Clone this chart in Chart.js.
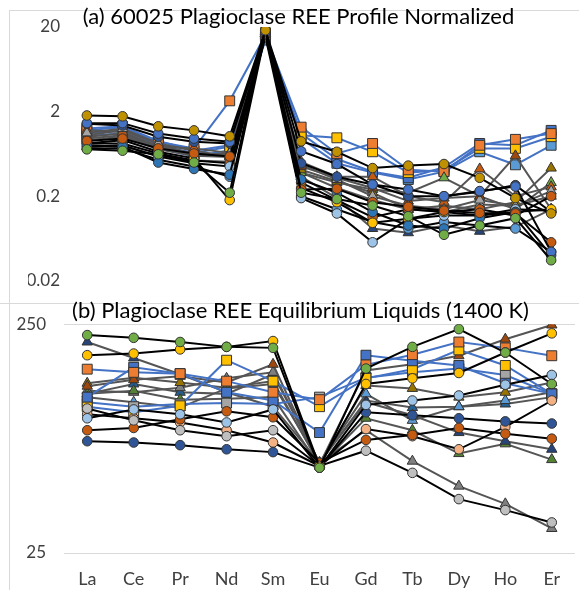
<!DOCTYPE html>
<html><head><meta charset="utf-8">
<script src="https://cdn.jsdelivr.net/npm/chart.js@4.4.0/dist/chart.umd.min.js"></script>
<style>
html,body{margin:0;padding:0;background:#fff;}
#wrap{position:relative;width:579px;height:590px;overflow:hidden;}
.cv{position:absolute;left:0;}
.ln{position:absolute;background:#d9d9d9;}
</style></head><body>
<div id="wrap">
<div class="ln" style="left:9px;top:10px;width:1px;height:580px"></div>
<div class="ln" style="left:9px;top:10px;width:570px;height:1px"></div>
<div class="ln" style="left:0;top:303px;width:579px;height:1px"></div>
<div class="cv" style="top:0;width:579px;height:300px"><canvas id="ca"></canvas></div>
<div class="cv" style="top:296px;width:585px;height:294px"><canvas id="cb"></canvas></div>
</div>
<script>
// ---------- Data: panel (a) 60025 plagioclase REE normalized ----------
const catsA = ['La','Ce','Pr','Nd','Sm','Eu','Gd','Tb','Dy','Ho','Er','Tm','Yb','Lu'];
const titleA = '(a) 60025 Plagioclase REE Profile Normalized';
const tickValsA = [0.02, 0.2, 2, 20];
const tickLabelsA = ['0.02', '0.2', '2', '20'];

const a_goldCircle      = [1.80,1.76,1.34,1.20,1.02,18.3,0.89,0.67,0.43,0.46,0.48,0.33,0.19,0.125];
const a_blueCircle      = [1.46,1.46,1.10,0.96,0.88,17.5,0.68,0.48,0.275,0.24,0.20,0.23,0.26,0.044];
const a_dkOrangeCircle  = [0.90,0.96,0.735,0.64,0.59,16.7,0.24,0.245,0.17,0.15,0.135,0.127,0.125,0.057];
const a_greenCircle     = [0.716,0.69,0.626,0.50,0.22,19.1,0.22,0.185,0.155,0.116,0.07,0.09,0.11,0.035];
const a_blueCircle2     = [0.80,0.77,0.50,0.42,0.36,16,0.315,0.22,0.13,0.09,0.083,0.11,0.13,0.04];
const a_yellowCircle    = [0.84,0.92,0.67,0.56,0.18,16.7,0.25,0.17,0.097,0.108,0.13,0.118,0.13,0.14];
const a_ltBlueCircle    = [0.77,0.80,0.59,0.49,0.45,15.3,0.19,0.125,0.057,0.108,0.118,0.118,0.14,0.135];
const a_dkBlueCircle    = [1.44,1.37,1.01,0.88,0.84,17.5,0.49,0.34,0.275,0.20,0.20,0.225,0.27,0.13];
const a_dkOrangeCircle2 = [0.84,0.84,0.64,0.53,0.49,18.3,0.29,0.18,0.113,0.14,0.13,0.14,0.118,0.20];
const a_blueCircle3     = [0.735,0.735,0.54,0.45,0.34,17.5,0.20,0.14,0.099,0.083,0.099,0.09,0.083,0.044];
const a_grayTri         = [1.12,1.26,0.84,0.61,0.64,17.5,0.47,0.315,0.20,0.154,0.14,0.18,0.154,0.23];
const a_dkOrangeTri     = [1.20,1.15,0.78,0.735,0.65,17.5,0.51,0.34,0.34,0.20,0.17,0.42,0.20,0.258];
const a_brownTri        = [1.01,1.10,0.77,0.64,0.61,16.7,0.45,0.33,0.25,0.175,0.19,0.20,0.60,0.14];
const a_oliveTri        = [0.92,1.01,0.716,0.60,0.58,17.5,0.41,0.30,0.22,0.14,0.154,0.14,0.17,0.43];
const a_greenTri        = [0.96,1.05,0.735,0.61,0.60,16.7,0.38,0.29,0.24,0.22,0.33,0.20,0.14,0.29];
const a_dkBlueTri       = [0.77,0.78,0.60,0.53,0.51,16.7,0.34,0.19,0.083,0.074,0.09,0.077,0.087,0.14];
const a_ltGrayTri       = [1.05,1.20,0.84,0.69,0.59,16,0.38,0.25,0.18,0.14,0.13,0.16,0.154,0.20];
const a_orangeSquare    = [1.20,1.31,0.88,0.735,2.68,16,1.31,0.64,0.84,0.41,0.39,0.80,0.94,1.10];
const a_yellowSquare    = [1.10,1.22,0.80,0.65,0.77,16.7,1.05,0.98,0.67,0.38,0.41,0.735,0.735,1.01];
const a_blueSquare      = [1.26,1.34,0.90,0.69,0.80,15.3,1.10,0.55,0.39,0.33,0.44,0.84,0.80,1.20];
const a_ltBlueSquare    = [1.02,1.12,0.735,0.59,0.70,14,0.96,0.49,0.38,0.315,0.39,0.67,0.47,0.80];

// ---------- Data: panel (b) equilibrium liquids ----------
const catsB = ['La','Ce','Pr','Nd','Sm','Eu','Gd','Tb','Dy','Ho','Er'];
const titleB = '(b) Plagioclase REE Equilibrium Liquids (1400 K)';
const tickValsB = [25, 250];
const tickLabelsB = ['25', '250'];

const b_greenCircle    = [224,218,209,199,197,59,160,199,238,188,137];
const b_yellowCircle   = [183,186,194,199,211,60,137,145,153,188,228];
const b_orangeSquare   = [159,154,152,141,126,117,166,184,209,197,182];
const b_blueSquare     = [120,162,152,126,116,84,183,173,165,138,124];
const b_yellowSquare   = [109,103,110,174,141,109,145,159,193,165,124];
const b_graySquare     = [114,109,112,113,112,120,146,154,160,150,124];
const b_brownTri       = [134,143,148,139,167,61,157,167,182,215,248];
const b_dkBlueTri      = [209,178,151,126,109,62,114,100,84,77,71];
const b_oliveTri       = [138,146,139,132,141,61,135,131,120,126,139];
const b_blueTri        = [120,114,108,131,137,62,124,95,109,116,126];
const b_dkGreenTri     = [124,128,117,118,120,60,97,86,68,75,64];
const b_grayTri        = [128,126,132,145,154,62,86,63,49,41,32];
const b_grayCircle     = [107,95,86,81,86,60,70,56,43,38.5,34];
const b_ltBlueCircle   = [97,106,101,93,106,59,111,116,122,136,150];
const b_dkOrangeCircle = [86,88,96,104,98,62,78,82,88,83,79];
const b_dkBlueCircle   = [77,76,74,71,69,59,103,100,97,94,92];
const b_ltOrangeCircle = [101,97,93,86,76,60,87,81,71,89,116];
const b_dkBlueTri2     = [124,137,126,124,151,62,116,108,109,112,120];

// ---------- Styles ----------
const BLACK = '#000000', GRAYLINE = '#555555', BLUELINE = '#4472c4';
function ds(data, shape, fill, line) {
  const r = shape === 'rect' ? 7 : (shape === 'triangle' ? 6 : 4.8);
  return {
    data: data, pointStyle: shape, pointRadius: r, pointHoverRadius: r,
    pointBackgroundColor: fill, pointBorderColor: '#333333', pointBorderWidth: 1,
    borderColor: line, borderWidth: 2, tension: 0, fill: false
  };
}
// first dataset is drawn on top
const dsA = [
  ds(a_goldCircle,'circle','#bf9000',BLACK),
  ds(a_greenCircle,'circle','#70ad47',BLACK),
  ds(a_blueCircle,'circle','#4472c4',BLACK),
  ds(a_dkOrangeCircle,'circle','#c55a11',BLACK),
  ds(a_blueCircle2,'circle','#2e75b6',BLACK),
  ds(a_yellowCircle,'circle','#ffc000',BLACK),
  ds(a_ltBlueCircle,'circle','#9dc3e6',BLACK),
  ds(a_dkBlueCircle,'circle','#2f5597',BLACK),
  ds(a_dkOrangeCircle2,'circle','#c55a11',BLACK),
  ds(a_blueCircle3,'circle','#5b9bd5',BLACK),
  ds(a_grayTri,'triangle','#a5a5a5',GRAYLINE),
  ds(a_dkOrangeTri,'triangle','#c55a11',GRAYLINE),
  ds(a_brownTri,'triangle','#9e480e',GRAYLINE),
  ds(a_oliveTri,'triangle','#997300',GRAYLINE),
  ds(a_greenTri,'triangle','#70ad47',GRAYLINE),
  ds(a_dkBlueTri,'triangle','#264478',GRAYLINE),
  ds(a_ltGrayTri,'triangle','#bfbfbf',GRAYLINE),
  ds(a_orangeSquare,'rect','#ed7d31',BLUELINE),
  ds(a_yellowSquare,'rect','#ffc000',BLUELINE),
  ds(a_blueSquare,'rect','#4472c4',BLUELINE),
  ds(a_ltBlueSquare,'rect','#5b9bd5',BLUELINE)
];
const dsB = [
  ds(b_greenCircle,'circle','#70ad47',BLACK),
  ds(b_yellowCircle,'circle','#ffc000',BLACK),
  ds(b_grayCircle,'circle','#bfbfbf',BLACK),
  ds(b_ltBlueCircle,'circle','#9dc3e6',BLACK),
  ds(b_dkOrangeCircle,'circle','#c55a11',BLACK),
  ds(b_dkBlueCircle,'circle','#2f5597',BLACK),
  ds(b_ltOrangeCircle,'circle','#f4b183',BLACK),
  ds(b_orangeSquare,'rect','#ed7d31',BLUELINE),
  ds(b_blueSquare,'rect','#4472c4',BLUELINE),
  ds(b_yellowSquare,'rect','#ffc000',BLUELINE),
  ds(b_graySquare,'rect','#a5a5a5',BLUELINE),
  ds(b_brownTri,'triangle','#9e480e',GRAYLINE),
  ds(b_dkBlueTri,'triangle','#264478',GRAYLINE),
  ds(b_oliveTri,'triangle','#997300',GRAYLINE),
  ds(b_blueTri,'triangle','#5b9bd5',GRAYLINE),
  ds(b_dkGreenTri,'triangle','#548235',GRAYLINE),
  ds(b_grayTri,'triangle','#7f7f7f',GRAYLINE),
  ds(b_dkBlueTri2,'triangle','#255e91',GRAYLINE)
];

const FONT = 'Lato, "Open Sans", sans-serif';
function fixTicks(vals) {
  return function (s) { s.ticks = vals.map(v => ({ value: v })); };
}

new Chart(document.getElementById('ca'), {
  type: 'line',
  data: { labels: catsA, datasets: dsA },
  options: {
    responsive: true, maintainAspectRatio: false, animation: false, devicePixelRatio: 1,
    layout: { padding: { left: 28, right: 10, top: 0, bottom: 14 } },
    plugins: {
      legend: { display: false }, tooltip: { enabled: false },
      title: { display: true, text: titleA, color: '#000000',
        font: { family: FONT, size: 22, weight: 'normal', lineHeight: 1 },
        padding: { top: 6, bottom: -1 } }
    },
    scales: {
      x: { type: 'category', display: false, offset: true },
      y: { type: 'logarithmic', min: 0.02, max: 20,
        afterBuildTicks: fixTicks(tickValsA),
        afterFit: function (s) { s.width = 41; },
        grid: { display: false, drawTicks: false }, border: { display: false },
        ticks: { padding: 9, color: '#404040', font: { family: FONT, size: 17 },
          callback: function (v) { const i = tickValsA.indexOf(v); return i >= 0 ? tickLabelsA[i] : ''; } } }
    }
  }
});

new Chart(document.getElementById('cb'), {
  type: 'line',
  data: { labels: catsB, datasets: dsB },
  options: {
    responsive: true, maintainAspectRatio: false, animation: false, devicePixelRatio: 1,
    layout: { padding: { left: 16, right: 0, top: 0, bottom: 0 } },
    plugins: {
      legend: { display: false }, tooltip: { enabled: false },
      title: { display: true, text: titleB, color: '#000000',
        font: { family: FONT, size: 22, weight: 'normal', lineHeight: 1 },
        padding: { top: 1, bottom: 2 } }
    },
    scales: {
      x: { type: 'category', offset: true,
        afterFit: function (s) { s.height = 37; },
        grid: { display: false, drawTicks: false }, border: { display: false },
        ticks: { padding: 15, color: '#404040', font: { family: FONT, size: 18 } } },
      y: { type: 'logarithmic', min: 25, max: 250,
        afterBuildTicks: fixTicks(tickValsB),
        afterFit: function (s) { s.width = 48; },
        grid: { display: true, drawTicks: false, color: '#d9d9d9', lineWidth: 1 },
        border: { display: false },
        ticks: { padding: 18, color: '#404040', font: { family: FONT, size: 17 },
          callback: function (v) { const i = tickValsB.indexOf(v); return i >= 0 ? tickLabelsB[i] : ''; } } },
      yPad: { type: 'linear', position: 'right', display: true,
        afterFit: function (s) { s.width = 10; },
        grid: { display: false, drawTicks: false }, border: { display: false },
        ticks: { display: false } }
    }
  }
});
</script>
</body></html>
